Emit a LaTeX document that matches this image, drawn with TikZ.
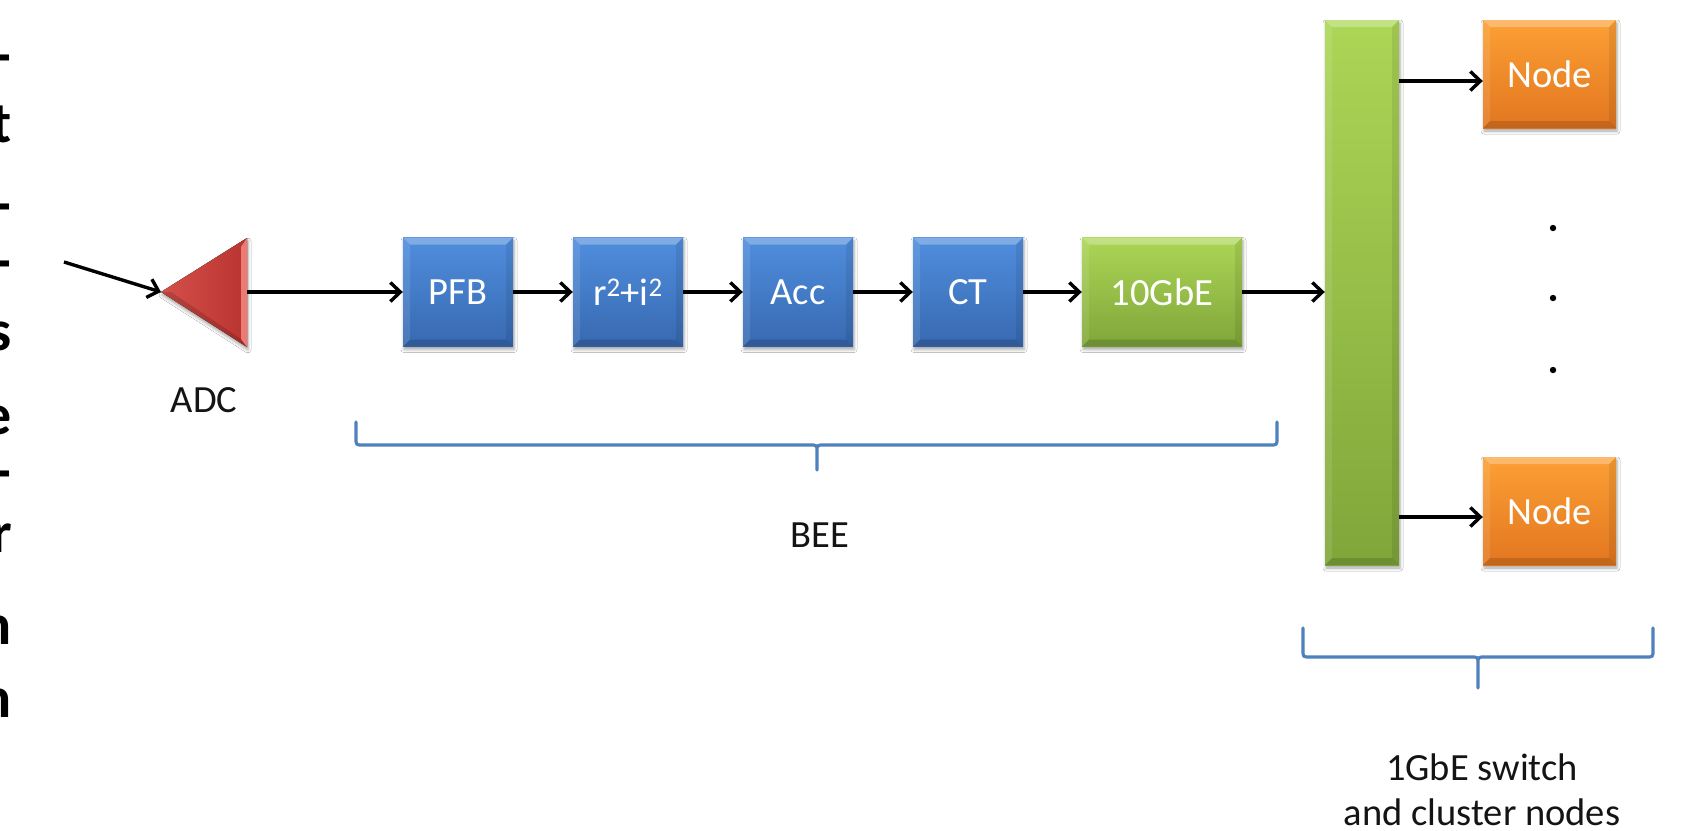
\documentclass[tikz,border=0pt]{standalone}
\usepackage{fontspec}
\setmainfont{Carlito}
\usetikzlibrary{arrows.meta,shadows.blur,calc}

\definecolor{bluetop}{RGB}{80,142,222}
\definecolor{bluebot}{RGB}{55,105,176}
\definecolor{greentop}{RGB}{172,214,86}
\definecolor{greenbot}{RGB}{128,166,58}
\definecolor{orangetop}{RGB}{252,160,52}
\definecolor{orangebot}{RGB}{226,118,32}
\definecolor{adclight}{RGB}{214,80,74}
\definecolor{adcdark}{RGB}{184,52,48}
\definecolor{adcedge}{RGB}{238,122,116}
\definecolor{bracecol}{RGB}{79,129,189}
\definecolor{labelcol}{RGB}{20,20,20}

\tikzset{
  txt/.style={font=\fontsize{38.5}{45}\selectfont, text=labelcol, inner sep=0pt},
  bevel/.style={path picture={
    \fill[white,opacity=.28] (path picture bounding box.north west) -- (path picture bounding box.north east)
      -- ([shift={(-7pt,-7pt)}]path picture bounding box.north east) -- ([shift={(7pt,-7pt)}]path picture bounding box.north west) -- cycle;
    \fill[white,opacity=.10] (path picture bounding box.north west) -- (path picture bounding box.south west)
      -- ([shift={(7pt,7pt)}]path picture bounding box.south west) -- ([shift={(7pt,-7pt)}]path picture bounding box.north west) -- cycle;
    \fill[black,opacity=.08] (path picture bounding box.north east) -- (path picture bounding box.south east)
      -- ([shift={(-7pt,7pt)}]path picture bounding box.south east) -- ([shift={(-7pt,-7pt)}]path picture bounding box.north east) -- cycle;
    \fill[black,opacity=.14] (path picture bounding box.south west) -- (path picture bounding box.south east)
      -- ([shift={(-7pt,7pt)}]path picture bounding box.south east) -- ([shift={(7pt,7pt)}]path picture bounding box.south west) -- cycle;
  }},
  block/.style={rectangle, inner sep=0pt, bevel,
    font=\fontsize{38.5}{45}\selectfont, text=white,
    blur shadow={shadow xshift=1pt, shadow yshift=-3pt, shadow blur radius=3pt, shadow opacity=35}},
  dspblock/.style={block, top color=bluetop, bottom color=bluebot, minimum width=110pt, minimum height=109pt},
  netblock/.style={block, top color=greentop, bottom color=greenbot},
  hostblock/.style={block, top color=orangetop, bottom color=orangebot, minimum width=133pt, minimum height=108pt},
  conn/.style={draw=black, line width=3.4pt, -{Straight Barb[length=10pt,width=19pt]}},
  brace/.style={draw=bracecol, line width=3.2pt, line cap=round, line join=round},
  frag/.style={font=\bfseries\fontsize{58}{58}\selectfont, text=black, inner sep=0pt, anchor=base east}
}

\begin{document}
\begin{tikzpicture}[x=1pt,y=-1pt]
\useasboundingbox (0,0) rectangle (1685,830);
\fill[white] (0,0) rectangle (1685,830);

% text running off the left edge
\begin{scope}
\clip (0,0) rectangle (1685,830);
\node[frag] (f1) at (11,74) {-};
\node[frag] (f2) at (12,142) {t};
\node[frag] (f3) at (11,223) {-};
\node[frag] (f4) at (11,280) {-};
\node[frag] (f5) at (12,350) {s};
\node[frag] (f6) at (12,434) {e};
\node[frag] (f7) at (11,490) {-};
\node[frag] (f8) at (12,552) {r};
\node[frag] (f9) at (12,644) {n};
\node[frag] (f10) at (12,717) {n};
\end{scope}

% ADC
\coordinate (feed) at (64,262);
\coordinate (adc-in) at (161,292);
\coordinate (adc-out) at (247,292);
\fill[left color=adclight, right color=adcdark,
      blur shadow={shadow xshift=1pt, shadow yshift=-3pt, shadow blur radius=3pt, shadow opacity=35}]
  (adc-in) -- (247,238) -- (247,347) -- cycle;
\fill[adcedge] (247,238) -- (247,347) -- (241,339) -- (241,247) -- cycle;
\fill[black,opacity=.15] (adc-in) -- (247,347) -- (241,339) -- (171,292) -- cycle;
\node[txt] (adc) at (204,400) {ADC};

% BEE chain
\node[dspblock] (pfb) at (458,292) {PFB};
\node[dspblock] (pow) at (628,292) {r\textsuperscript{2}+i\textsuperscript{2}};
\node[dspblock] (acc) at (798,292) {Acc};
\node[dspblock] (ct)  at (968,292) {CT};
\node[netblock, minimum width=160pt, minimum height=109pt] (tengbe) at (1162,292) {10GbE};

% switch and cluster nodes
\node[netblock, minimum width=74pt, minimum height=545pt] (switch) at (1362,292.5) {};
\node[hostblock] (node1) at (1549.5,74) {Node};
\node[hostblock] (node2) at (1549.5,511) {Node};
\fill (1553,228) circle (3.2);
\fill (1553,298) circle (3.2);
\fill (1553,370) circle (3.2);

% signal path
\draw[conn] (feed) -- (adc-in);
\draw[conn] (adc-out) -- (pfb.west);
\draw[conn] (pfb) -- (pow);
\draw[conn] (pow) -- (acc);
\draw[conn] (acc) -- (ct);
\draw[conn] (ct) -- (tengbe);
\draw[conn] (tengbe.east) -- (tengbe.east -| switch.west);
\draw[conn] ([yshift=-7pt]node1.west -| switch.east) -- ([yshift=-7pt]node1.west);
\draw[conn] ([yshift=-6pt]node2.west -| switch.east) -- ([yshift=-6pt]node2.west);

% braces
\draw[brace] (356,422) -- (356,438) .. controls (356,445) .. (363,445) -- (810,445)
  .. controls (817,445) .. (817,452) -- (817,470)
  (817,452) .. controls (817,445) .. (824,445) -- (1270,445)
  .. controls (1277,445) .. (1277,438) -- (1277,422);
\node[txt] (bee) at (820,535) {BEE};

\draw[brace] (1303,628) -- (1303,650) .. controls (1303,657) .. (1310,657) -- (1471,657)
  .. controls (1478,657) .. (1478,664) -- (1478,688)
  (1478,664) .. controls (1478,657) .. (1485,657) -- (1646,657)
  .. controls (1653,657) .. (1653,650) -- (1653,628);
\node[txt, align=center] (cluster) at (1482,790) {1GbE switch\\and cluster nodes};
\end{tikzpicture}
\end{document}
